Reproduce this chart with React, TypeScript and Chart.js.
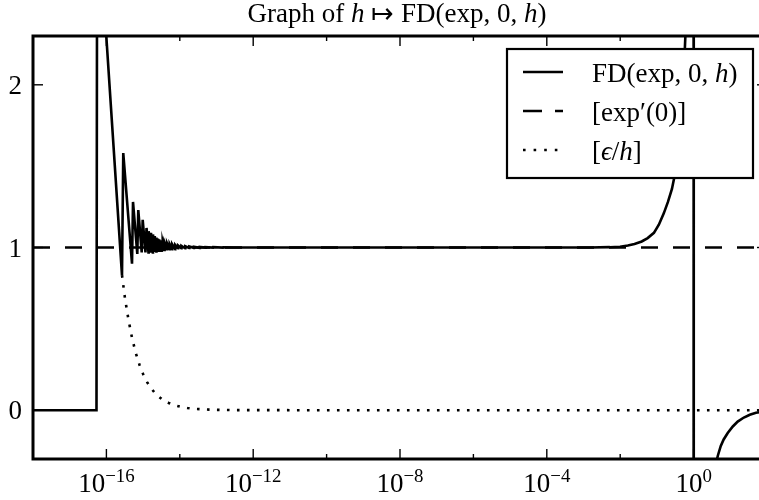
import React, { useEffect, useRef } from "react";
import { Chart, registerables } from "chart.js";

Chart.register(...registerables);

// ---- axis ranges ----
const X_MIN = 1e-18;
const X_MAX = 1e2;
const Y_MIN = -0.3;
const Y_MAX = 2.3;

// ---- series: FD(exp, 0, h) ----
const fdH = [
  1e-18, 5.37e-17, 5.65e-17, 9.16e-17,
  2.66e-16, 2.88e-16, 4.99e-16, 5.31e-16, 6.95e-16, 7.39e-16, 9.16e-16, 9.75e-16, 1.16e-15, 1.24e-15,
  1.40e-15, 1.42e-15, 1.62e-15, 1.64e-15, 1.84e-15, 1.86e-15, 2.06e-15, 2.08e-15,
  2.29e-15, 2.31e-15, 2.51e-15, 2.53e-15, 2.73e-15, 2.75e-15, 2.95e-15, 2.97e-15,
  3.18e-15, 3.20e-15, 3.40e-15, 3.42e-15, 3.84e-15, 3.86e-15, 4.5e-15, 4.52e-15,
  5.3e-15, 5.32e-15, 6.2e-15, 6.22e-15, 7.5e-15, 7.52e-15, 9.0e-15, 9.02e-15,
  1.1e-14, 1.11e-14, 1.4e-14, 1.41e-14, 1.8e-14, 1.82e-14, 2.4e-14, 2.42e-14,
  3.5e-14, 3.52e-14, 5e-14, 5.05e-14, 8e-14, 8.1e-14, 1.5e-13, 1.52e-13,
  3e-13, 1e-11, 1e-8, 1e-5,
  1.5e-3, 5.2e-3, 9.9e-3, 1.62e-2, 2.45e-2, 3.86e-2, 5.6e-2, 8.3e-2, 0.113, 0.154,
  0.2, 0.257, 0.31, 0.37, 0.447, 0.52, 0.61, 0.74, 0.87,
  0.995, 1.01,
  2.8, 3.8, 4.57, 5.5, 6.6, 8.5, 11.7, 15.9, 23.4, 34, 50, 100,
];
const fdV = [
  0, 0, 3.9, 2.42,
  0.83, 1.58, 0.9, 1.28, 0.96, 1.23, 0.97, 1.17, 0.97, 1.12,
  0.97, 1.1, 0.975, 1.09, 0.97, 1.08, 0.98, 1.07,
  0.975, 1.06, 0.98, 1.055, 0.98, 1.05, 0.985, 1.045,
  0.98, 1.04, 0.985, 1.035, 0.985, 1.03, 0.99, 1.025,
  0.99, 1.02, 0.99, 1.02, 0.99, 1.015, 0.995, 1.012,
  0.995, 1.01, 0.995, 1.008, 0.997, 1.006, 0.998, 1.004,
  0.998, 1.003, 0.999, 1.002, 0.999, 1.002, 0.9995, 1.001,
  1.0, 1.0, 1.0, 1.0,
  1.0, 1.002, 1.005, 1.012, 1.022, 1.037, 1.058, 1.09, 1.14, 1.21,
  1.28, 1.36, 1.45, 1.57, 1.75, 1.98, 2.35, 3.0, 4.5,
  60, -60,
  -0.8, -0.36, -0.28, -0.22, -0.18, -0.14, -0.1, -0.07, -0.045, -0.028, -0.016, -0.006,
];

// ---- series: [exp'(0)] ----
const refH = [1e-18, 1e2];
const refV = [1, 1];

// ---- series: [eps/h] ----
const epsH = [
  2.66e-16, 3.2e-16, 4e-16, 5e-16, 6.3e-16, 8e-16,
  1e-15, 1.3e-15, 1.6e-15, 2e-15, 2.5e-15, 3.2e-15, 4e-15, 5e-15, 6.3e-15, 8e-15,
  1e-14, 1.6e-14, 2.5e-14, 4e-14, 6.3e-14,
  1e-13, 2.5e-13, 1e-12, 1e-10, 1e-6, 1e2,
];
const epsV = [
  0.83, 0.69, 0.555, 0.444, 0.352, 0.278,
  0.222, 0.171, 0.139, 0.111, 0.089, 0.069, 0.0555, 0.0444, 0.0352, 0.0278,
  0.0222, 0.0139, 0.0089, 0.0056, 0.0035,
  0.0022, 0.0009, 0.0002, 0.000002, 0, 0,
];

// ---- ticks ----
const xMajorTicks = [1e-16, 1e-12, 1e-8, 1e-4, 1e0];
const xMajorExp = ["\u221216", "\u221212", "\u22128", "\u22124", "0"];
const xMinorTicks = [1e-14, 1e-10, 1e-6, 1e-2];
const yTicks = [0, 1, 2];
const yTickLabels = ["0", "1", "2"];

type Run = { t: string; it?: boolean; sup?: boolean };

const titleRuns: Run[] = [
  { t: "Graph of " },
  { t: "h", it: true },
  { t: " \u21A6 " },
  { t: "FD(exp, 0, " },
  { t: "h", it: true },
  { t: ")" },
];

const legendRuns: Run[][] = [
  [{ t: "FD(exp, 0, " }, { t: "h", it: true }, { t: ")" }],
  [{ t: "[exp\u2032(0)]" }],
  [{ t: "[" }, { t: "\u03F5", it: true }, { t: "/" }, { t: "h", it: true }, { t: "]" }],
];
const legendDash = [[], [19, 13], [2.6, 8]];

const FONT = '"Liberation Serif", "Times New Roman", serif';
const TICK_SIZE = 27;
const TEXT_SIZE = 27;
const LW = 2.6;

function drawRuns(
  ctx: CanvasRenderingContext2D,
  runs: Run[],
  x: number,
  y: number,
  size: number,
  align: "left" | "center" | "right"
) {
  const parts = runs.map((r) => {
    const fs = r.sup ? size * 0.7 : size;
    const font = `${r.it ? "italic " : ""}${fs}px ${FONT}`;
    ctx.font = font;
    return { r, font, w: ctx.measureText(r.t).width };
  });
  const total = parts.reduce((s, p) => s + p.w, 0);
  let cx = align === "center" ? x - total / 2 : align === "right" ? x - total : x;
  ctx.textAlign = "left";
  ctx.textBaseline = "alphabetic";
  for (const p of parts) {
    ctx.font = p.font;
    ctx.fillText(p.r.t, cx, p.r.sup ? y - size * 0.36 : y);
    cx += p.w;
  }
}

const framePlugin = {
  id: "frame",
  afterDraw(chart: any) {
    const { ctx, chartArea: a, scales } = chart;
    const xs = scales.x;
    const ys = scales.y;
    const seg = (x1: number, y1: number, x2: number, y2: number) => {
      ctx.beginPath();
      ctx.moveTo(x1, y1);
      ctx.lineTo(x2, y2);
      ctx.stroke();
    };
    ctx.save();
    ctx.strokeStyle = "#000";
    ctx.fillStyle = "#000";
    ctx.setLineDash([]);

    // ticks (inward, all four sides)
    ctx.lineWidth = 1.4;
    xMajorTicks.forEach((v) => {
      const px = xs.getPixelForValue(v);
      seg(px, a.bottom, px, a.bottom - 10);
      seg(px, a.top, px, a.top + 10);
    });
    xMinorTicks.forEach((v) => {
      const px = xs.getPixelForValue(v);
      seg(px, a.bottom, px, a.bottom - 5);
      seg(px, a.top, px, a.top + 5);
    });
    yTicks.forEach((v) => {
      const py = ys.getPixelForValue(v);
      seg(a.left, py, a.left + 10, py);
      seg(a.right, py, a.right - 10, py);
    });

    // spines
    ctx.lineWidth = 3;
    ctx.strokeRect(a.left, a.top, a.right - a.left, a.bottom - a.top);

    // x tick labels
    xMajorTicks.forEach((v, i) => {
      const px = xs.getPixelForValue(v);
      drawRuns(ctx, [{ t: "10" }, { t: xMajorExp[i], sup: true }], px, a.bottom + 33, TICK_SIZE, "center");
    });
    // y tick labels
    yTicks.forEach((v, i) => {
      const py = ys.getPixelForValue(v);
      drawRuns(ctx, [{ t: yTickLabels[i] }], a.left - 11, py + 9, TICK_SIZE, "right");
    });

    // title
    drawRuns(ctx, titleRuns, (a.left + a.right) / 2 - 3, 22, TEXT_SIZE, "center");

    // legend
    const bx = 507, by = 49, bw = 246, bh = 129;
    ctx.fillStyle = "#fff";
    ctx.fillRect(bx, by, bw, bh);
    ctx.lineWidth = 2.2;
    ctx.strokeStyle = "#000";
    ctx.strokeRect(bx, by, bw, bh);
    ctx.fillStyle = "#000";
    legendRuns.forEach((runs, i) => {
      const cy = 72 + i * 39;
      ctx.lineWidth = LW;
      ctx.setLineDash(legendDash[i]);
      seg(523, cy, 563, cy);
      ctx.setLineDash([]);
      drawRuns(ctx, runs, 592, cy + 10, TEXT_SIZE, "left");
    });
    ctx.restore();
  },
};

export default function App() {
  const ref = useRef<HTMLCanvasElement | null>(null);
  useEffect(() => {
    if (!ref.current) return;
    const chart = new Chart(ref.current, {
      type: "line",
      data: {
        datasets: [
          {
            label: "FD(exp, 0, h)",
            data: fdH.map((h, i) => ({ x: h, y: fdV[i] })),
            borderColor: "#000",
            borderWidth: LW,
            pointRadius: 0,
            tension: 0,
            fill: false,
            clip: 0,
          },
          {
            label: "[exp'(0)]",
            data: refH.map((h, i) => ({ x: h, y: refV[i] })),
            borderColor: "#000",
            borderWidth: LW,
            borderDash: [17, 15],
            pointRadius: 0,
            fill: false,
            clip: 0,
          },
          {
            label: "[eps/h]",
            data: epsH.map((h, i) => ({ x: h, y: epsV[i] })),
            borderColor: "#000",
            borderWidth: LW,
            borderDash: [2.6, 7.4],
            pointRadius: 0,
            tension: 0,
            fill: false,
            clip: 0,
          },
        ],
      },
      options: {
        animation: false,
        responsive: false,
        devicePixelRatio: 1,
        events: [],
        layout: { padding: { left: 33, top: 36, right: 33, bottom: 41 } },
        scales: {
          x: { type: "logarithmic", min: X_MIN, max: X_MAX, display: false },
          y: { type: "linear", min: Y_MIN, max: Y_MAX, display: false },
        },
        plugins: {
          legend: { display: false },
          title: { display: false },
          tooltip: { enabled: false },
        },
      } as any,
      plugins: [framePlugin],
    });
    return () => chart.destroy();
  }, []);

  return (
    <div
      style={{
        position: "fixed",
        left: 0,
        top: 0,
        width: 759,
        height: 500,
        overflow: "hidden",
        background: "#fff",
      }}
    >
      <canvas ref={ref} width={800} height={500} style={{ display: "block", width: 800, height: 500 }} />
    </div>
  );
}
